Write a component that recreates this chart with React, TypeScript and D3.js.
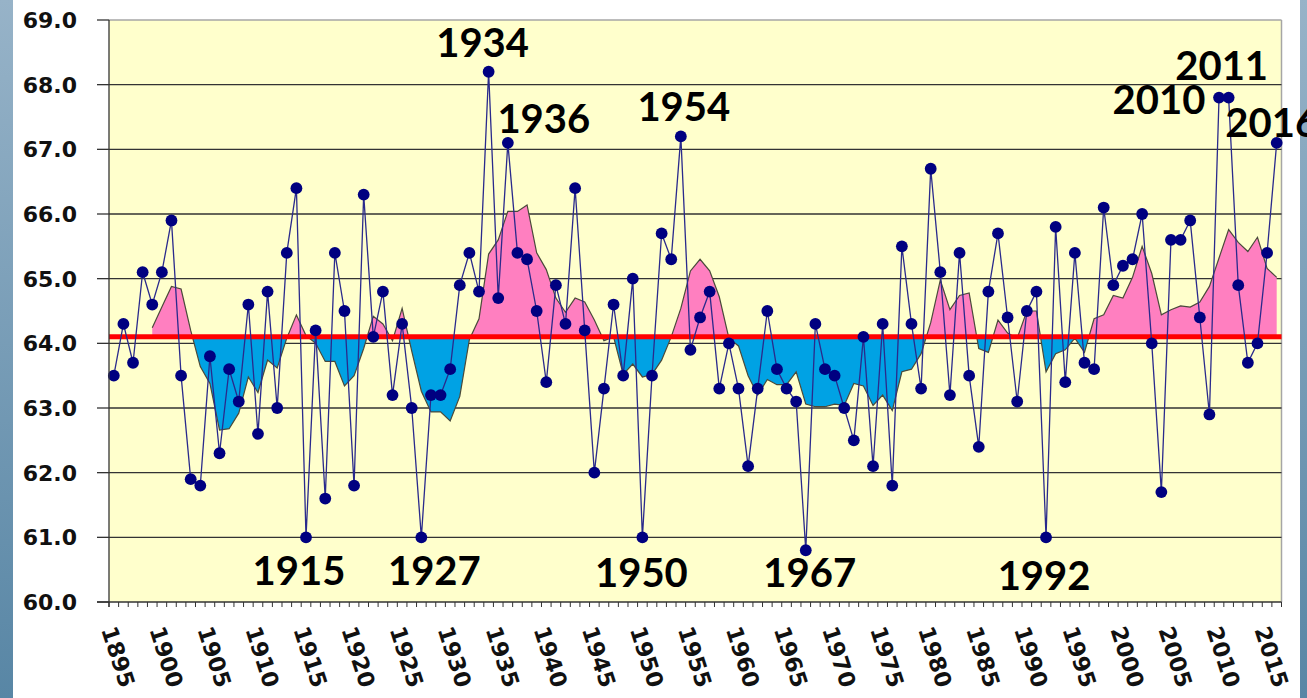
import React from "react";
import * as d3 from "d3";

// annual values, one per year from 1895
const START_YEAR = 1895;
const temps = [
  63.5, 64.3, 63.7, 65.1, 64.6, 65.1, 65.9, 63.5, 61.9, 61.8, // 1895-1904
  63.8, 62.3, 63.6, 63.1, 64.6, 62.6, 64.8, 63.0, 65.4, 66.4, // 1905-1914
  61.0, 64.2, 61.6, 65.4, 64.5, 61.8, 66.3, 64.1, 64.8, 63.2, // 1915-1924
  64.3, 63.0, 61.0, 63.2, 63.2, 63.6, 64.9, 65.4, 64.8, 68.2, // 1925-1934
  64.7, 67.1, 65.4, 65.3, 64.5, 63.4, 64.9, 64.3, 66.4, 64.2, // 1935-1944
  62.0, 63.3, 64.6, 63.5, 65.0, 61.0, 63.5, 65.7, 65.3, 67.2, // 1945-1954
  63.9, 64.4, 64.8, 63.3, 64.0, 63.3, 62.1, 63.3, 64.5, 63.6, // 1955-1964
  63.3, 63.1, 60.8, 64.3, 63.6, 63.5, 63.0, 62.5, 64.1, 62.1, // 1965-1974
  64.3, 61.8, 65.5, 64.3, 63.3, 66.7, 65.1, 63.2, 65.4, 63.5, // 1975-1984
  62.4, 64.8, 65.7, 64.4, 63.1, 64.5, 64.8, 61.0, 65.8, 63.4, // 1985-1994
  65.4, 63.7, 63.6, 66.1, 64.9, 65.2, 65.3, 66.0, 64.0, 61.7, // 1995-2004
  65.6, 65.6, 65.9, 64.4, 62.9, 67.8, 67.8, 64.9, 63.7, 64.0, // 2005-2014
  65.4, 67.1, // 2015-2016
];

// smoothed (5-yr) curve as drawn, one per year from 1899
const SMOOTH_START = 1899;
const smooth = [
  64.24, 64.56, 64.88, 64.84, 64.2, 63.64, 63.38, 62.66, 62.68, 62.92, // 1899-1908
  63.48, 63.24, 63.74, 63.62, 64.08, 64.44, 64.12, 64.0, 63.72, 63.72, // 1909-1918
  63.34, 63.5, 63.92, 64.42, 64.3, 64.04, 64.54, 63.88, 63.26, 62.94, // 1919-1928
  62.94, 62.8, 63.18, 64.06, 64.38, 65.38, 65.6, 66.04, 66.04, 66.14, // 1929-1938
  65.4, 65.14, 64.7, 64.48, 64.7, 64.64, 64.36, 64.04, 64.1, 63.52, // 1939-1948
  63.68, 63.48, 63.52, 63.74, 64.1, 64.54, 65.12, 65.3, 65.12, 64.72, // 1949-1958
  64.08, 63.96, 63.5, 63.2, 63.44, 63.36, 63.36, 63.56, 63.06, 63.02, // 1959-1968
  63.02, 63.06, 63.04, 63.38, 63.34, 63.04, 63.2, 62.96, 63.56, 63.6, // 1969-1978
  63.84, 64.32, 64.98, 64.52, 64.74, 64.78, 63.92, 63.86, 64.36, 64.16, // 1979-1988
  64.08, 64.5, 64.5, 63.56, 63.84, 63.9, 64.08, 63.86, 64.38, 64.44, // 1989-1998
  64.74, 64.7, 65.02, 65.5, 65.08, 64.44, 64.52, 64.58, 64.56, 64.64, // 1999-2008
  64.88, 65.32, 65.76, 65.56, 65.42, 65.64, 65.16, 65.02, // 2009-2016
];

const BASELINE = 64.1;
const yTicks = [60, 61, 62, 63, 64, 65, 66, 67, 68, 69];
const xLabelYears = [
  1895, 1900, 1905, 1910, 1915, 1920, 1925, 1930, 1935, 1940, 1945, 1950, 1955,
  1960, 1965, 1970, 1975, 1980, 1985, 1990, 1995, 2000, 2005, 2010, 2015,
];
const highYears = [1934, 1936, 1954, 2010, 2011, 2016];
const lowYears = [1915, 1927, 1950, 1967, 1992];

// label offsets from their point (px)
const labelOffset: Record<number, [number, number]> = {
  1934: [-6, -15], 1936: [36, -10], 1954: [3, -15], 2010: [-60, 16],
  2011: [-7, -18], 2016: [-5, -6],
  1915: [-7, 48], 1927: [13, 48], 1950: [-1, 50], 1967: [4, 37], 1992: [-2, 53],
};

const W = 1307;
const H = 698;
const left = 109, right = 1281.5, top = 20, bottom = 602;

export default function App() {
  const years = temps.map((_, i) => START_YEAR + i);
  const x = d3.scaleBand<number>().domain(years).range([left, right]).padding(0);
  const cx = (yr: number) => (x(yr) as number) + x.bandwidth() / 2;
  const y = d3.scaleLinear().domain([60, 69]).range([bottom, top]);

  const pts = temps.map((v, i) => ({ yr: START_YEAR + i, v }));
  const spts = smooth.map((v, i) => ({ yr: SMOOTH_START + i, v }));

  const dataLine = d3.line<{ yr: number; v: number }>().x((d) => cx(d.yr)).y((d) => y(d.v));
  const area = d3
    .area<{ yr: number; v: number }>()
    .x((d) => cx(d.yr))
    .y0(y(BASELINE))
    .y1((d) => y(d.v));
  const yb = y(BASELINE);

  const minorTicks = d3.range(years.length + 1).map((i) => left + i * x.bandwidth());

  return (
    <div style={{ position: "absolute", left: 0, top: 0 }}>
      <svg width={W} height={H} style={{ display: "block" }}>
        <defs>
          <linearGradient id="side" x1="0" y1="0" x2="0" y2="1">
            <stop offset="0" stopColor="#97b3c8" />
            <stop offset="1" stopColor="#5886a5" />
          </linearGradient>
          <clipPath id="above">
            <rect x={left} y={top} width={right - left} height={yb - top} />
          </clipPath>
          <clipPath id="below">
            <rect x={left} y={yb} width={right - left} height={bottom - yb} />
          </clipPath>
        </defs>
        <rect width={W} height={H} fill="#ffffff" />
        <rect x={0} y={0} width={13} height={H} fill="url(#side)" />
        <rect x={1300} y={0} width={7} height={H} fill="url(#side)" />

        <rect x={left} y={top} width={right - left} height={bottom - top} fill="#ffffcc" />
        <line x1={left} x2={right} y1={top} y2={top} stroke="#a6a6a6" strokeWidth={1.5} />
        <line x1={right} x2={right} y1={top} y2={bottom} stroke="#a6a6a6" strokeWidth={1.5} />

        {yTicks.slice(1, -1).map((t) => (
          <line key={t} x1={left} x2={right} y1={y(t)} y2={y(t)} stroke="#333" strokeWidth={1.3} />
        ))}

        <path d={area(spts) || ""} fill="#ff7fc0" clipPath="url(#above)" />
        <path d={area(spts) || ""} fill="#00a2e4" clipPath="url(#below)" />
        <path d={dataLine(spts) || ""} fill="none" stroke="#4a4a3a" strokeWidth={1.2} />

        <line x1={left} x2={right} y1={yb} y2={yb} stroke="#ff0000" strokeWidth={5} />

        <path d={dataLine(pts) || ""} fill="none" stroke="#2a2a8c" strokeWidth={1.3} />
        {pts.map((d) => (
          <circle key={d.yr} cx={cx(d.yr)} cy={y(d.v)} r={5.9} fill="#000080" />
        ))}

        {/* axes */}
        <line x1={left} x2={left} y1={top} y2={bottom + 5} stroke="#333" strokeWidth={1.3} />
        <line x1={left - 12} x2={right} y1={bottom} y2={bottom} stroke="#333" strokeWidth={1.3} />
        {yTicks.map((t) => (
          <g key={t}>
            <line x1={left - 12} x2={left} y1={y(t)} y2={y(t)} stroke="#333" strokeWidth={1.3} />
            <text
              x={77}
              y={y(t)}
              dy="0.36em"
              textAnchor="end"
              fontFamily="DejaVu Sans, Verdana, sans-serif"
              fontWeight="bold"
              fontSize={22}
              fill="#111"
            >
              {t.toFixed(1)}
            </text>
          </g>
        ))}
        {minorTicks.map((tx, i) => (
          <line key={i} x1={tx} x2={tx} y1={bottom} y2={bottom + 5} stroke="#333" strokeWidth={1} />
        ))}
        {xLabelYears.map((yr) => (
          <text
            key={yr}
            transform={`translate(${cx(yr) - 5},${bottom + 25}) rotate(72)`}
            dy="0.36em"
            textAnchor="start"
            fontFamily="DejaVu Sans, Verdana, sans-serif"
            fontWeight="bold"
            fontSize={22.5}
            fill="#111"
          >
            {yr}
          </text>
        ))}

        {[...highYears, ...lowYears].map((yr) => {
          const v = temps[yr - START_YEAR];
          const [dx, dy] = labelOffset[yr];
          return (
            <text
              key={yr}
              x={cx(yr) + dx}
              y={y(v) + dy}
              textAnchor="middle"
              fontFamily="Lato, Open Sans, sans-serif"
              fontWeight="bold"
              fontSize={40}
              fill="#000"
            >
              {yr}
            </text>
          );
        })}
      </svg>
    </div>
  );
}
